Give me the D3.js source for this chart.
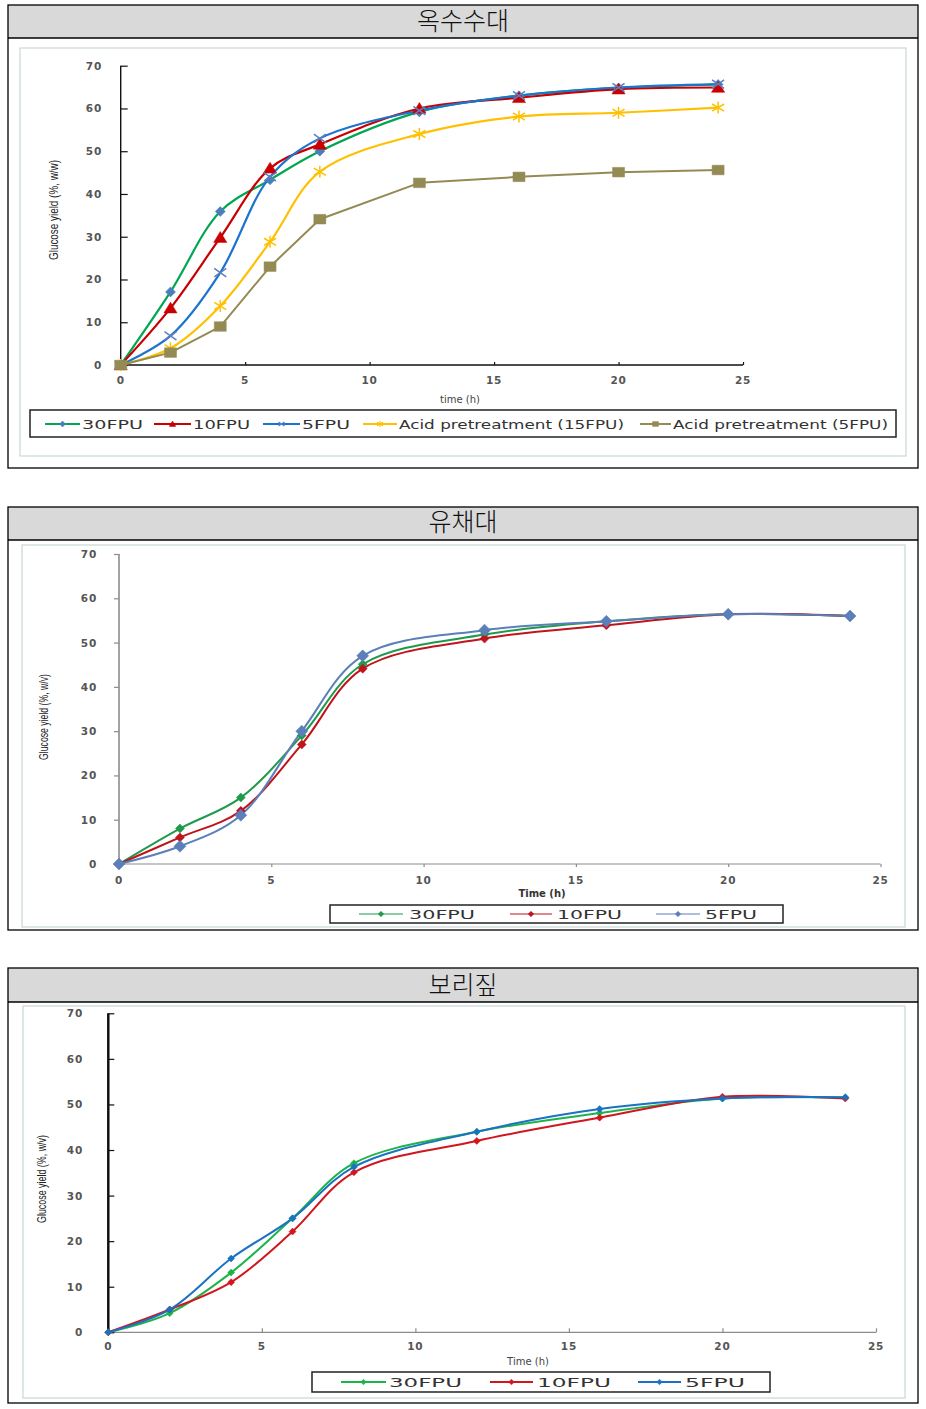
<!DOCTYPE html>
<html><head><meta charset="utf-8">
<script src="https://cdn.jsdelivr.net/npm/d3@7"></script>
<style>
html,body{margin:0;padding:0;background:#fff;}
svg{display:block;}
</style>
</head><body>
<svg id="c" width="926" height="1409"></svg>
<script>
// ---------------- DATA ----------------
const times = [0, 2, 4, 6, 8, 12, 16, 20, 24];
const xTicks = [0, 5, 10, 15, 20, 25];
const yTicks = [0, 10, 20, 30, 40, 50, 60, 70];
const titles = ["옥수수대", "유채대", "보리짚"];

// Panel 1: 옥수수대
const p1Names = ["30FPU", "10FPU", "5FPU", "Acid pretreatment (15FPU)", "Acid pretreatment (5FPU)"];
const p1_30FPU   = [0, 17.1, 35.9, 43.3, 50.0, 59.2, 63.0, 64.8, 65.6];
const p1_10FPU   = [0, 13.3, 29.8, 46.0, 51.6, 60.0, 62.5, 64.5, 64.9];
const p1_5FPU    = [0, 6.8, 21.6, 44.0, 53.0, 59.5, 63.0, 64.9, 65.7];
const p1_acid15  = [0, 3.9, 13.8, 28.8, 45.2, 54.0, 58.1, 59.0, 60.2];
const p1_acid5   = [0, 2.9, 9.0, 23.0, 34.1, 42.6, 44.0, 45.1, 45.6];

// Panel 2: 유채대
const p2Names = ["30FPU", "10FPU", "5FPU"];
const p2_30FPU = [0, 8.0, 15.0, 29.0, 45.1, 51.8, 54.8, 56.4, 56.0];
const p2_10FPU = [0, 6.0, 12.0, 27.0, 44.1, 50.9, 53.9, 56.4, 56.0];
const p2_5FPU  = [0, 4.0, 11.0, 30.0, 47.0, 52.8, 54.8, 56.4, 56.0];

// Panel 3: 보리짚
const p3Names = ["30FPU", "10FPU", "5FPU"];
const p3_30FPU = [0, 4.2, 13.1, 25.0, 37.1, 44.0, 48.1, 51.3, 51.5];
const p3_10FPU = [0, 5.0, 11.0, 22.1, 35.1, 42.0, 47.1, 51.7, 51.3];
const p3_5FPU  = [0, 5.0, 16.2, 25.0, 36.3, 44.0, 49.0, 51.3, 51.6];

// ---------------- MARKERS ----------------
function markerPath(type, r) {
  switch (type) {
    case "diamond": return `M0,${-r}L${r},0L0,${r}L${-r},0Z`;
    case "triangle": return `M0,${-r}L${r*1.1},${r*0.8}L${-r*1.1},${r*0.8}Z`;
    case "square": return `M${-r},${-r*0.8}H${r}V${r*0.8}H${-r}Z`;
    case "x": return `M${-r},${-r*0.7}L${r},${r*0.7}M${-r},${r*0.7}L${r},${-r*0.7}`;
    case "star": return `M${-r},${-r*0.6}L${r},${r*0.6}M${-r},${r*0.6}L${r},${-r*0.6}M0,${-r}V${r}`;
  }
}
const strokeMarkers = new Set(["x", "star"]);

// ---------------- LAYOUT (positions/styles) ----------------
const panels = [
  {
    title: titles[0], top: 5, hdr: 38, bottom: 468, titleY: 30,
    inner: [20, 48, 886, 408],
    xr: [120.7, 743], yr: [365, 65.7],
    axisColor: "#111", axisW: 1.4, yAxisW: 1.4, xAxisColor: "#111",
    yTickDir: 1, yTickLen: 7, xTickDir: -1, xTickLen: 3,
    yLabelRight: 102, xLabelY: 384, xTitle: "time (h)", xTitleX: 460, xTitleY: 403, xTitleBold: false,
    yTitle: "Glucose yield (%, w/w)", yTitleX: 55, yTitleY: 210, yTitleLen: 100,
    legendBox: [30, 410, 866, 27], legendY: 424,
    legendItems: [[45, 80, 82, 143], [154, 191, 193, 250], [263, 300, 302, 350], [363, 397, 399, 624], [640, 671, 673, 888]],
    series: [
      {name: p1Names[0], data: p1_30FPU, color: "#00a651", mcolor: "#4a7ebb", marker: "diamond", r: 5, curve: true, w: 2.2},
      {name: p1Names[1], data: p1_10FPU, color: "#c80000", mcolor: "#c80000", marker: "triangle", r: 6, curve: true, w: 2.2},
      {name: p1Names[2], data: p1_5FPU, color: "#1b75cf", mcolor: "#5c7fc0", marker: "x", r: 6, curve: true, w: 2.2},
      {name: p1Names[3], data: p1_acid15, color: "#ffc000", mcolor: "#ffc000", marker: "star", r: 6, curve: true, w: 2.2},
      {name: p1Names[4], data: p1_acid5, color: "#948a54", mcolor: "#948a54", marker: "square", r: 6, curve: false, w: 2}
    ]
  },
  {
    title: titles[1], top: 507, hdr: 540, bottom: 930, titleY: 531,
    inner: [22, 545, 883, 382],
    xr: [119, 880.5], yr: [864, 554],
    axisColor: "#8c8c8c", axisW: 1.2, yAxisW: 1.6, xAxisColor: "#8c8c8c",
    yTickDir: -1, yTickLen: 5, xTickDir: 1, xTickLen: 3,
    yLabelRight: 97, xLabelY: 884, xTitle: "Time (h)", xTitleX: 542, xTitleY: 897, xTitleBold: true,
    yTitle: "Glucose yield (%, w/v)", yTitleX: 45, yTitleY: 717, yTitleLen: 86,
    legendBox: [330, 905, 453, 18], legendY: 914,
    legendItems: [[359, 403, 409, 475], [510, 552, 557, 622], [656, 700, 705, 757]],
    series: [
      {name: p2Names[0], data: p2_30FPU, color: "#1f9a4c", mcolor: "#1f9a4c", marker: "diamond", r: 4.5, curve: true, w: 2},
      {name: p2Names[1], data: p2_10FPU, color: "#c0141c", mcolor: "#c0141c", marker: "diamond", r: 4.5, curve: true, w: 2},
      {name: p2Names[2], data: p2_5FPU, color: "#5b7fb8", mcolor: "#5b7fb8", marker: "diamond", r: 6, curve: true, w: 2}
    ]
  },
  {
    title: titles[2], top: 968, hdr: 1002, bottom: 1403, titleY: 994,
    inner: [23, 1006, 882, 392],
    xr: [108.3, 876], yr: [1332.3, 1013.3],
    axisColor: "#111", axisW: 1.2, yAxisW: 2.5, xAxisColor: "#8c8c8c",
    yTickDir: 1, yTickLen: 6, xTickDir: -1, xTickLen: 4,
    yLabelRight: 83, xLabelY: 1350, xTitle: "Time (h)", xTitleX: 528, xTitleY: 1365, xTitleBold: false,
    yTitle: "Glucose yield (%, w/v)", yTitleX: 43, yTitleY: 1179, yTitleLen: 88,
    legendBox: [312, 1372, 458, 20], legendY: 1382,
    legendItems: [[341, 386, 389, 462], [490, 533, 537, 611], [638, 681, 685, 745]],
    series: [
      {name: p3Names[0], data: p3_30FPU, color: "#1db34b", mcolor: "#1db34b", marker: "diamond", r: 3.5, curve: true, w: 2},
      {name: p3Names[1], data: p3_10FPU, color: "#d0161e", mcolor: "#d0161e", marker: "diamond", r: 3.5, curve: true, w: 2},
      {name: p3Names[2], data: p3_5FPU, color: "#1a72c2", mcolor: "#1a72c2", marker: "diamond", r: 3.5, curve: true, w: 2}
    ]
  }
];

// ---------------- DRAW ----------------
const svg = d3.select("#c");
const tickFont = "'DejaVu Sans', 'Liberation Sans', sans-serif";

panels.forEach((P, pi) => {
  const g = svg.append("g");
  // outer table frame
  g.append("rect").attr("x", 8).attr("y", P.hdr).attr("width", 910).attr("height", P.bottom - P.hdr)
    .attr("fill", "#fff");
  g.append("rect").attr("x", 8).attr("y", P.top).attr("width", 910).attr("height", P.hdr - P.top)
    .attr("fill", "#d9d9d9");
  g.append("rect").attr("x", 8).attr("y", P.top).attr("width", 910).attr("height", P.bottom - P.top)
    .attr("fill", "none").attr("stroke", "#000").attr("stroke-width", 1.3);
  g.append("line").attr("x1", 8).attr("x2", 918).attr("y1", P.hdr).attr("y2", P.hdr)
    .attr("stroke", "#000").attr("stroke-width", 1.6);
  g.append("text").attr("x", 463).attr("y", P.titleY).attr("text-anchor", "middle")
    .attr("font-family", "'Noto Sans CJK KR', sans-serif").attr("font-size", 25)
    .attr("font-weight", 300).attr("fill", "#111").text(P.title);

  // chart area border
  g.append("rect").attr("x", P.inner[0]).attr("y", P.inner[1]).attr("width", P.inner[2]).attr("height", P.inner[3])
    .attr("fill", "#fff").attr("stroke", "#c9d6d8").attr("stroke-width", 1.2);

  const x = d3.scaleLinear().domain([0, 25]).range(P.xr);
  const y = d3.scaleLinear().domain([0, 70]).range(P.yr);

  // x axis
  const xAxis = d3.axisBottom(x).tickValues(xTicks).tickSize(P.xTickLen * P.xTickDir).tickFormat("");
  const gx = g.append("g").attr("transform", `translate(0,${y(0)})`).call(xAxis);
  gx.select(".domain").attr("stroke", P.xAxisColor).attr("stroke-width", P.axisW).attr("d", `M${P.xr[0]},0H${P.xr[1]}`);
  gx.selectAll(".tick line").attr("stroke", P.xAxisColor).attr("stroke-width", 1.2);
  // y axis
  const yAxis = d3.axisLeft(y).tickValues(yTicks).tickSize(-P.yTickLen * P.yTickDir).tickFormat("");
  const gy = g.append("g").attr("transform", `translate(${x(0)},0)`).call(yAxis);
  gy.select(".domain").attr("stroke", P.axisColor).attr("stroke-width", P.yAxisW).attr("d", `M0,${P.yr[0]}V${P.yr[1]}`);
  gy.selectAll(".tick line").attr("stroke", P.axisColor).attr("stroke-width", 1.2);

  // tick labels
  g.append("g").selectAll("text").data(yTicks).join("text")
    .attr("x", P.yLabelRight).attr("y", d => y(d) + 4).attr("text-anchor", "end")
    .attr("font-family", tickFont).attr("font-size", 10.5).attr("font-weight", 600).attr("fill", "#555")
    .attr("letter-spacing", 0.8).text(d => d);
  g.append("g").selectAll("text").data(xTicks).join("text")
    .attr("x", d => x(d)).attr("y", P.xLabelY).attr("text-anchor", "middle")
    .attr("font-family", tickFont).attr("font-size", 10.5).attr("font-weight", 600).attr("fill", "#555")
    .attr("letter-spacing", 0.8).text(d => d);

  // axis titles
  g.append("text").attr("x", P.xTitleX).attr("y", P.xTitleY).attr("text-anchor", "middle")
    .attr("font-family", tickFont).attr("font-size", 10).attr("font-weight", P.xTitleBold ? "bold" : "normal")
    .attr("fill", P.xTitleBold ? "#333" : "#444").text(P.xTitle);
  g.append("text").attr("transform", `translate(${P.yTitleX},${P.yTitleY}) rotate(-90)`)
    .attr("text-anchor", "middle").attr("dominant-baseline", "middle")
    .attr("font-family", "'Liberation Sans Narrow', 'Liberation Sans', sans-serif").attr("font-size", 12.5)
    .attr("fill", "#222").attr("textLength", P.yTitleLen).attr("lengthAdjust", "spacingAndGlyphs")
    .text(P.yTitle);

  // series lines
  const lineSmooth = d3.line().x(d => x(d[0])).y(d => y(d[1])).curve(d3.curveCatmullRom.alpha(0.5));
  const lineStraight = d3.line().x(d => x(d[0])).y(d => y(d[1]));
  P.series.forEach(s => {
    const pts = times.map((t, i) => [t, s.data[i]]);
    g.append("path").attr("d", (s.curve ? lineSmooth : lineStraight)(pts))
      .attr("fill", "none").attr("stroke", s.color).attr("stroke-width", s.w)
      .attr("stroke-linejoin", "round");
  });
  // markers on top
  P.series.forEach(s => {
    const pts = times.map((t, i) => [t, s.data[i]]);
    const isStroke = strokeMarkers.has(s.marker);
    g.append("g").selectAll("path").data(pts).join("path")
      .attr("transform", d => `translate(${x(d[0])},${y(d[1])})`)
      .attr("d", markerPath(s.marker, s.r))
      .attr("fill", isStroke ? "none" : s.mcolor)
      .attr("stroke", s.mcolor).attr("stroke-width", isStroke ? 1.5 : 0.5);
  });

  // legend
  const lb = P.legendBox;
  g.append("rect").attr("x", lb[0]).attr("y", lb[1]).attr("width", lb[2]).attr("height", lb[3])
    .attr("fill", "#fff").attr("stroke", "#222").attr("stroke-width", 1.5);
  P.series.forEach((s, i) => {
    const it = P.legendItems[i];
    const ly = P.legendY;
    g.append("line").attr("x1", it[0]).attr("x2", it[1]).attr("y1", ly).attr("y2", ly)
      .attr("stroke", s.color).attr("stroke-width", pi === 1 ? 1.2 : 2);
    const isStroke = strokeMarkers.has(s.marker);
    g.append("path").attr("transform", `translate(${(it[0] + it[1]) / 2},${ly})`)
      .attr("d", markerPath(s.marker, pi === 0 ? 3 : 2.8))
      .attr("fill", isStroke ? "none" : s.mcolor).attr("stroke", s.mcolor)
      .attr("stroke-width", isStroke ? 1.2 : 0.5);
    g.append("text").attr("x", it[2]).attr("y", ly + 4.5)
      .attr("font-family", tickFont).attr("font-size", 11.5).attr("fill", "#333")
      .attr("textLength", it[3] - it[2]).attr("lengthAdjust", "spacingAndGlyphs")
      .text(s.name);
  });
});
</script>
</body></html>
